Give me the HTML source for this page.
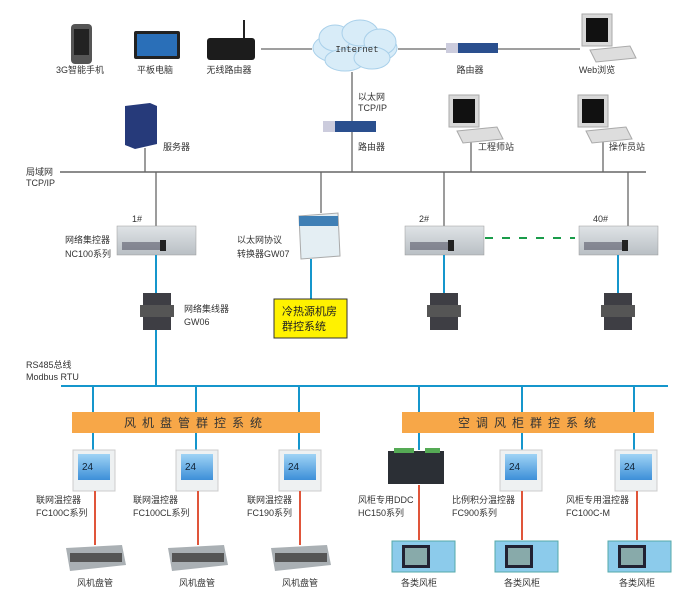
<!DOCTYPE html>
<html><head><meta charset="utf-8"><style>
html,body{margin:0;padding:0;background:#fff;}
svg{display:block;}
text{font-family:"Liberation Sans","Noto Sans CJK SC",sans-serif;font-size:9px;fill:#333;}
</style></head><body>
<svg width="687" height="613" viewBox="0 0 687 613" xmlns="http://www.w3.org/2000/svg">
<defs>
<linearGradient id="box" x1="0" y1="0" x2="0" y2="1"><stop offset="0" stop-color="#dfe3e6"/><stop offset="1" stop-color="#b9bfc4"/></linearGradient>
<linearGradient id="scr" x1="0" y1="0" x2="0" y2="1"><stop offset="0" stop-color="#9fd3f5"/><stop offset="1" stop-color="#3d8fd8"/></linearGradient>
</defs>
<!-- top lines -->
<g stroke="#666" stroke-width="1.3" fill="none">
<line x1="261" y1="49" x2="312" y2="49"/><line x1="398" y1="49" x2="580" y2="49"/>
<line x1="352" y1="72" x2="352" y2="172"/>
<line x1="145" y1="148" x2="145" y2="172"/><line x1="471" y1="142" x2="471" y2="172"/><line x1="603" y1="142" x2="603" y2="172"/>
<line x1="60" y1="172" x2="646" y2="172" stroke-width="1.6"/>
<line x1="156" y1="172" x2="156" y2="226"/><line x1="321" y1="172" x2="321" y2="213"/>
<line x1="444" y1="172" x2="444" y2="226"/><line x1="628" y1="172" x2="628" y2="226"/>
</g>
<!-- phone -->
<rect x="71" y="24" width="21" height="40" rx="4" fill="#555"/><rect x="74" y="29" width="15" height="26" fill="#222"/>
<!-- tablet -->
<rect x="134" y="31" width="46" height="28" rx="2" fill="#222"/><rect x="137" y="34" width="40" height="22" fill="#2a6fb8"/>
<!-- wireless router -->
<line x1="244" y1="20" x2="244" y2="40" stroke="#222" stroke-width="2"/>
<rect x="207" y="38" width="48" height="22" rx="3" fill="#1c1c1c"/>
<!-- cloud -->
<g fill="#d8ecf8" stroke="#a9d0ea">
<ellipse cx="355" cy="48" rx="42" ry="18"/><ellipse cx="335" cy="38" rx="16" ry="13"/><ellipse cx="360" cy="33" rx="18" ry="13"/><ellipse cx="380" cy="42" rx="16" ry="13"/><ellipse cx="345" cy="60" rx="20" ry="11"/><ellipse cx="372" cy="58" rx="18" ry="11"/>
</g>
<text x="357" y="52" text-anchor="middle" style="font-family:'Liberation Mono',monospace;font-size:9px;fill:#333">Internet</text>
<!-- routers -->
<rect x="446" y="43" width="52" height="10" fill="#2a4f8e"/><rect x="446" y="43" width="12" height="10" fill="#ccd"/>
<rect x="323" y="121" width="53" height="11" fill="#2a4f8e"/><rect x="323" y="121" width="12" height="11" fill="#ccd"/>
<!-- PCs -->
<g id="pc">
<rect x="582" y="14" width="30" height="32" fill="#d8d8d8" stroke="#aaa"/><rect x="586" y="18" width="22" height="24" fill="#111"/>
<polygon points="590,50 630,46 636,58 596,62" fill="#ddd" stroke="#aaa"/>
</g>
<use href="#pc" transform="translate(-133,81)"/><use href="#pc" transform="translate(-4,81)"/>
<!-- server -->
<polygon points="125,106 150,103 157,106 157,144 135,149 125,145" fill="#263a7a"/>
<!-- labels top -->
<text x="80" y="73" text-anchor="middle">3G智能手机</text><text x="155" y="73" text-anchor="middle">平板电脑</text><text x="229" y="73" text-anchor="middle">无线路由器</text>
<text x="470" y="73" text-anchor="middle">路由器</text><text x="597" y="73" text-anchor="middle">Web浏览</text>
<text x="358" y="100">以太网</text><text x="358" y="111">TCP/IP</text>
<text x="358" y="150">路由器</text><text x="163" y="150">服务器</text><text x="478" y="150">工程师站</text><text x="609" y="150">操作员站</text>
<text x="26" y="175">局域网</text><text x="26" y="186">TCP/IP</text>
<!-- controllers -->
<g id="nc"><rect x="117" y="226" width="79" height="29" fill="url(#box)" stroke="#999" stroke-width=".5"/><rect x="122" y="242" width="40" height="8" fill="#445" opacity=".5"/><rect x="160" y="240" width="6" height="11" fill="#222"/></g>
<use href="#nc" transform="translate(288,0)"/><use href="#nc" transform="translate(462,0)"/>
<text x="132" y="222">1#</text><text x="419" y="222">2#</text><text x="593" y="222">40#</text>
<text x="65" y="243">网络集控器</text><text x="65" y="257">NC100系列</text>
<line x1="485" y1="238" x2="575" y2="238" stroke="#1a9c4a" stroke-width="2" stroke-dasharray="8,9"/>
<!-- GW07 -->
<polygon points="299,216 338,213 340,256 301,259" fill="#e4eef3" stroke="#aaa"/><rect x="299" y="216" width="39" height="10" fill="#3f7fb5"/>
<text x="237" y="243">以太网协议</text><text x="237" y="257">转换器GW07</text>
<!-- blue lines -->
<g stroke="#1596cc" stroke-width="2">
<line x1="156" y1="255" x2="156" y2="386"/><line x1="311" y1="259" x2="311" y2="299"/>
<line x1="444" y1="255" x2="444" y2="293"/><line x1="618" y1="255" x2="618" y2="293"/>
<line x1="61" y1="386" x2="668" y2="386"/>
<line x1="93" y1="386" x2="93" y2="450"/><line x1="196" y1="386" x2="196" y2="450"/><line x1="299" y1="386" x2="299" y2="450"/>
<line x1="419" y1="386" x2="419" y2="450"/><line x1="522" y1="386" x2="522" y2="450"/><line x1="634" y1="386" x2="634" y2="450"/>
</g>
<!-- GW06 -->
<g id="gw"><rect x="143" y="293" width="28" height="37" fill="#3e3e44"/><rect x="140" y="305" width="34" height="12" fill="#555"/></g>
<use href="#gw" transform="translate(287,0)"/><use href="#gw" transform="translate(461,0)"/>
<text x="184" y="312">网络集线器</text><text x="184" y="325">GW06</text>
<!-- yellow -->
<rect x="274" y="299" width="73" height="39" fill="#fff200" stroke="#333"/>
<text x="282" y="315" style="font-size:11px;fill:#222">冷热源机房</text><text x="282" y="330" style="font-size:11px;fill:#222">群控系统</text>
<text x="26" y="368">RS485总线</text><text x="26" y="380">Modbus RTU</text>
<!-- orange bars -->
<rect x="72" y="412" width="248" height="21" fill="#f7a748"/><rect x="402" y="412" width="252" height="21" fill="#f7a748"/>
<text x="196" y="427" text-anchor="middle" style="font-size:12px;fill:#333;letter-spacing:6px">风机盘管群控系统</text>
<text x="530" y="427" text-anchor="middle" style="font-size:12px;fill:#333;letter-spacing:6px">空调风柜群控系统</text>
<!-- thermostats -->
<g id="th"><rect x="73" y="450" width="42" height="41" fill="#eef1f2" stroke="#ccc"/><rect x="78" y="454" width="32" height="26" fill="url(#scr)"/><text x="82" y="470" style="font-size:10px;fill:#123">24</text></g>
<use href="#th" transform="translate(103,0)"/><use href="#th" transform="translate(206,0)"/>
<use href="#th" transform="translate(427,0)"/><use href="#th" transform="translate(542,0)"/>
<rect x="388" y="451" width="56" height="33" fill="#2b2f35"/><rect x="394" y="448" width="20" height="5" fill="#5a5"/><rect x="425" y="448" width="15" height="5" fill="#5a5"/>
<!-- red lines -->
<g stroke="#e0553a" stroke-width="2">
<line x1="95" y1="491" x2="95" y2="545"/><line x1="198" y1="491" x2="198" y2="545"/><line x1="300" y1="491" x2="300" y2="545"/>
<line x1="419" y1="485" x2="419" y2="540"/><line x1="522" y1="491" x2="522" y2="540"/><line x1="637" y1="491" x2="637" y2="540"/>
</g>
<text x="36" y="503">联网温控器</text><text x="36" y="516">FC100C系列</text>
<text x="133" y="503">联网温控器</text><text x="133" y="516">FC100CL系列</text>
<text x="247" y="503">联网温控器</text><text x="247" y="516">FC190系列</text>
<text x="358" y="503">风柜专用DDC</text><text x="358" y="516">HC150系列</text>
<text x="452" y="503">比例积分温控器</text><text x="452" y="516">FC900系列</text>
<text x="566" y="503">风柜专用温控器</text><text x="566" y="516">FC100C-M</text>
<!-- fan coils -->
<g id="fc"><polygon points="66,548 122,545 126,565 70,571" fill="#aab0b4"/><rect x="70" y="553" width="52" height="9" fill="#555"/></g>
<use href="#fc" transform="translate(102,0)"/><use href="#fc" transform="translate(205,0)"/>
<g id="ahu"><rect x="392" y="541" width="63" height="31" fill="#8ccbeb" stroke="#5aa"/><rect x="402" y="545" width="28" height="23" fill="#223"/><rect x="405" y="548" width="22" height="17" fill="#8aa"/></g>
<use href="#ahu" transform="translate(103,0)"/><use href="#ahu" transform="translate(216,0)"/>
<text x="95" y="586" text-anchor="middle">风机盘管</text><text x="197" y="586" text-anchor="middle">风机盘管</text><text x="300" y="586" text-anchor="middle">风机盘管</text>
<text x="419" y="586" text-anchor="middle">各类风柜</text><text x="522" y="586" text-anchor="middle">各类风柜</text><text x="637" y="586" text-anchor="middle">各类风柜</text>
</svg>
</body></html>
